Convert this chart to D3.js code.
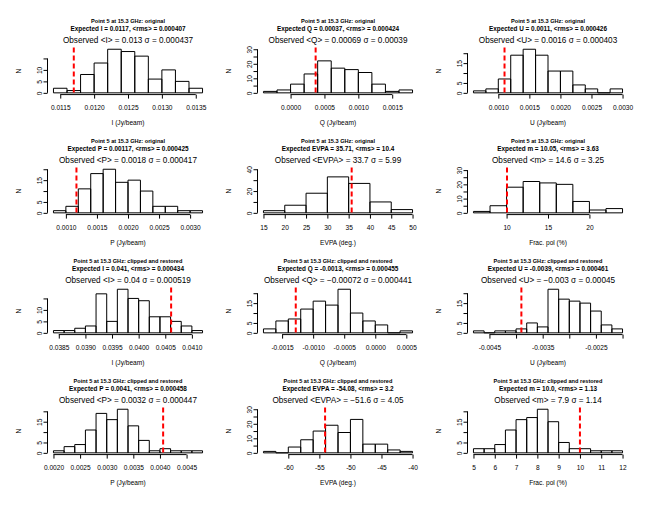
<!DOCTYPE html>
<html><head><meta charset="utf-8">
<script src="https://cdn.jsdelivr.net/npm/d3@7"></script>
<style>body{margin:0;background:#fff} svg{display:block}</style>
</head><body><svg id="c" width="660" height="510"></svg>
<script>
const FONT = '"Liberation Sans", Arial, Helvetica, sans-serif';

const panelTitles = [
  "Point 5 at 15.3 GHz: original","Point 5 at 15.3 GHz: original","Point 5 at 15.3 GHz: original",
  "Point 5 at 15.3 GHz: original","Point 5 at 15.3 GHz: original","Point 5 at 15.3 GHz: original",
  "Point 5 at 15.3 GHz: clipped and restored","Point 5 at 15.3 GHz: clipped and restored","Point 5 at 15.3 GHz: clipped and restored",
  "Point 5 at 15.3 GHz: clipped and restored","Point 5 at 15.3 GHz: clipped and restored","Point 5 at 15.3 GHz: clipped and restored"];
const expectedTexts = [
  "Expected I = 0.0117, <rms> = 0.000407","Expected Q = 0.00037, <rms> = 0.000424","Expected U = 0.0011, <rms> = 0.000426",
  "Expected P = 0.00117, <rms> = 0.000425","Expected EVPA = 35.71, <rms> = 10.4","Expected m = 10.05, <rms> = 3.63",
  "Expected I = 0.041, <rms> = 0.000434","Expected Q = -0.0013, <rms> = 0.000455","Expected U = -0.0039, <rms> = 0.000461",
  "Expected P = 0.0041, <rms> = 0.000458","Expected EVPA = -54.08, <rms> = 3.2","Expected m = 10.0, <rms> = 1.13"];
const observedTexts = [
  "Observed <I> = 0.013 \u03c3 = 0.000437","Observed <Q> = 0.00069 \u03c3 = 0.00039","Observed <U> = 0.0016 \u03c3 = 0.000403",
  "Observed <P> = 0.0018 \u03c3 = 0.000417","Observed <EVPA> = 33.7 \u03c3 = 5.99","Observed <m> = 14.6 \u03c3 = 3.25",
  "Observed <I> = 0.04 \u03c3 = 0.000519","Observed <Q> = \u22120.00072 \u03c3 = 0.000441","Observed <U> = \u22120.003 \u03c3 = 0.00045",
  "Observed <P> = 0.0032 \u03c3 = 0.000447","Observed <EVPA> = \u221251.6 \u03c3 = 4.05","Observed <m> = 7.9 \u03c3 = 1.14"];
const xLabels = ["I (Jy/beam)","Q (Jy/beam)","U (Jy/beam)","P (Jy/beam)","EVPA (deg.)","Frac. pol (%)",
  "I (Jy/beam)","Q (Jy/beam)","U (Jy/beam)","P (Jy/beam)","EVPA (deg.)","Frac. pol (%)"];
const expectedValues = [0.0117, 0.00037, 0.0011, 0.00117, 35.71, 10.05, 0.04061, -0.00128, -0.0039, 0.00406, -54.08, 10.0];
const yLimits = [19, 30, 22, 20, 40, 30.6, 19, 22, 22, 21, 30, 21];

const binEdges = [
  [0.0114,0.0116,0.0118,0.0120,0.0122,0.0124,0.0126,0.0128,0.0130,0.0132,0.0134,0.0136],
  [-0.0004,-0.0002,0.0000,0.0002,0.0004,0.0006,0.0008,0.0010,0.0012,0.0014,0.0016,0.0018],
  [0.0006,0.0008,0.0010,0.0012,0.0014,0.0016,0.0018,0.0020,0.0022,0.0024,0.0026,0.0028,0.0030],
  [0.0008,0.0010,0.0012,0.0014,0.0016,0.0018,0.0020,0.0022,0.0024,0.0026,0.0028,0.0030,0.0032],
  [15,20,25,30,35,40,45,50],
  [6,8,10,12,14,16,18,20,22,24],
  [0.0384,0.0386,0.0388,0.0390,0.0392,0.0394,0.0396,0.0398,0.0400,0.0402,0.0404,0.0406,0.0408,0.0410,0.0412],
  [-0.0018,-0.0016,-0.0014,-0.0012,-0.0010,-0.0008,-0.0006,-0.0004,-0.0002,0.0000,0.0002,0.0004,0.0006],
  [-0.0048,-0.0046,-0.0044,-0.0042,-0.0040,-0.0038,-0.0036,-0.0034,-0.0032,-0.0030,-0.0028,-0.0026,-0.0024,-0.0022,-0.0020],
  [0.0020,0.0022,0.0024,0.0026,0.0028,0.0030,0.0032,0.0034,0.0036,0.0038,0.0040,0.0042,0.0044,0.0046,0.0048],
  [-64,-62,-60,-58,-56,-54,-52,-50,-48,-46,-44,-42,-40],
  [5,5.5,6,6.5,7,7.5,8,8.5,9,9.5,10,10.5,11,11.5,12]];
const binCounts = [
  [2,1,8,13,19,18,16,6,10,5,2],
  [1,2,6,13,22,17,16,14,6,1,2],
  [1,2,7,19,22,19,11,11,4,2,0,2],
  [1,3,11,18,20,14,15,10,3,3,1,1],
  [2,7,18,33,27,10,3],
  [1,5,18,22,21,20,8,2,3],
  [1,1,2,3,17,5,19,15,14,7,7,5,3,1],
  [2,6,7,12,16,14,22,10,6,4,0,1],
  [1,0,1,1,2,5,3,22,17,16,15,11,4,2],
  [1,3,4,11,19,16,21,13,6,1,2,1,1,1],
  [1,0,4,9,15,19,14,23,6,6,2,1],
  [2,2,4,11,16,17,21,15,5,2,2,1,1,1]];

const xTicks = [
  [0.0115,0.0120,0.0125,0.0130,0.0135],
  [0.0000,0.0005,0.0010,0.0015],
  [0.0010,0.0015,0.0020,0.0025,0.0030],
  [0.0010,0.0015,0.0020,0.0025,0.0030],
  [15,20,25,30,35,40,45,50],
  [10,15,20],
  [0.0385,0.0390,0.0395,0.0400,0.0405,0.0410],
  [-0.0015,-0.0010,-0.0005,0.0000,0.0005],
  [-0.0045,-0.0040,-0.0035,-0.0030,-0.0025,-0.0020],
  [0.0020,0.0025,0.0030,0.0035,0.0040,0.0045],
  [-60,-55,-50,-45,-40],
  [5,6,7,8,9,10,11,12]];
const xTickLabels = [
  ["0.0115","0.0120","0.0125","0.0130","0.0135"],
  ["0.0000","0.0005","0.0010","0.0015"],
  ["0.0010","0.0015","0.0020","0.0025","0.0030"],
  ["0.0010","0.0015","0.0020","0.0025","0.0030"],
  ["15","20","25","30","35","40","45","50"],
  ["10","15","20"],
  ["0.0385","0.0390","0.0395","0.0400","0.0405","0.0410"],
  ["-0.0015","-0.0010","-0.0005","0.0000","0.0005"],
  ["-0.0045","","-0.0035","","-0.0025",""],
  ["0.0020","0.0025","0.0030","0.0035","0.0040","0.0045"],
  ["-60","-55","-50","-45","-40"],
  ["5","6","7","8","9","10","11","12"]];
const yTicks = [
  [0,5,10,15],[0,5,10,15,20,25,30],[0,5,10,15,20],
  [0,5,10,15,20],[0,10,20,30,40],[0,5,10,15,20,25,30],
  [0,5,10,15],[0,5,10,15,20],[0,5,10,15,20],
  [0,5,10,15,20],[0,5,10,15,20,25,30],[0,5,10,15,20]];
const yTickLabels = [
  ["0","5","10",""],["0","","10","","20","","30"],["0","5","","15",""],
  ["0","5","","15",""],["0","","20","","40"],["0","","10","","20","","30"],
  ["0","5","10",""],["0","5","","15",""],["0","5","","15",""],
  ["0","5","","15",""],["0","","10","","20","","30"],["0","5","","15",""]];

const svg = d3.select("#c");
svg.append("rect").attr("width",660).attr("height",510).attr("fill","#fff");

for (let i = 0; i < 12; i++) {
  const r = Math.floor(i / 3), c = i % 3;
  const left = 15 + c * 210 + 32.5, top = 15 + r * 120 + 32.5, w = 161, h = 47.1;
  const b = binEdges[i], n = binCounts[i];
  const lo = b[0], hi = b[b.length - 1], ext = 0.04 * (hi - lo);
  const x = d3.scaleLinear().domain([lo - ext, hi + ext]).range([left, left + w]);
  const Y = yLimits[i];
  const y = d3.scaleLinear().domain([-0.04 * Y, 1.04 * Y]).range([top + h, top]);
  const g = svg.append("g");

  g.selectAll("path.bar").data(n).join("path").attr("class","bar")
    .attr("d", (d, j) => `M${x(b[j])},${y(0)}V${y(d)}H${x(b[j + 1])}V${y(0)}Z`)
    .attr("fill", "none").attr("stroke", "#000").attr("stroke-width", 1);

  const xt = xTicks[i];
  const gx = g.append("g").attr("transform", `translate(0,${top + h})`)
    .call(d3.axisBottom(x).tickValues(xt).tickFormat((d, k) => xTickLabels[i][k]).tickSize(4).tickSizeOuter(0));
  gx.attr("font-family", FONT).attr("font-size", 6.6);
  gx.select(".domain").remove();
  gx.append("line").attr("x1", x(xt[0])).attr("x2", x(xt[xt.length - 1])).attr("stroke", "#000").attr("stroke-width", 1);
  gx.selectAll(".tick line").attr("stroke-width", 1);
  gx.selectAll(".tick text").attr("y", 12.7).attr("dy", "0.36em").attr("fill", "#000");

  const yt = yTicks[i];
  const gy = g.append("g").attr("transform", `translate(${left},0)`)
    .call(d3.axisLeft(y).tickValues(yt).tickFormat((d, k) => yTickLabels[i][k]).tickSize(4).tickSizeOuter(0));
  gy.attr("font-family", FONT).attr("font-size", 6.6);
  gy.select(".domain").remove();
  gy.append("line").attr("y1", y(yt[0])).attr("y2", y(yt[yt.length - 1])).attr("stroke", "#000").attr("stroke-width", 1);
  gy.selectAll(".tick line").attr("stroke-width", 1);
  gy.selectAll(".tick text").attr("x", 0).attr("y", -8.2).attr("dy", "0.36em")
    .attr("transform", "rotate(-90)").attr("text-anchor", "middle").attr("fill", "#000");

  g.append("line").attr("x1", x(expectedValues[i])).attr("x2", x(expectedValues[i]))
    .attr("y1", top).attr("y2", top + h)
    .attr("stroke", "#ff0000").attr("stroke-width", 2).attr("stroke-dasharray", "5,3");

  const cx = left + w / 2;
  g.append("text").attr("x", cx).attr("y", top - 26.8).attr("dy", "0.36em").attr("text-anchor", "middle")
    .attr("font-family", FONT).attr("font-weight", "bold").attr("font-size", 5.6).text(panelTitles[i]);
  g.append("text").attr("x", cx).attr("y", top - 19.3).attr("dy", "0.36em").attr("text-anchor", "middle")
    .attr("font-family", FONT).attr("font-weight", "bold").attr("font-size", 6.4).text(expectedTexts[i]);
  g.append("text").attr("x", cx).attr("y", top - 7.8).attr("dy", "0.36em").attr("text-anchor", "middle")
    .attr("font-family", FONT).attr("font-size", 8.2).text(observedTexts[i]);

  g.append("text").attr("x", cx).attr("y", top + h + 28.1).attr("dy", "0.33em").attr("text-anchor", "middle")
    .attr("font-family", FONT).attr("font-size", 6.6).text(xLabels[i]);
  g.append("text").attr("transform", `translate(${left - 28.5},${top + h / 2}) rotate(-90)`)
    .attr("dy", "0.36em").attr("text-anchor", "middle")
    .attr("font-family", FONT).attr("font-size", 6.6).text("N");
}
</script></body></html>
